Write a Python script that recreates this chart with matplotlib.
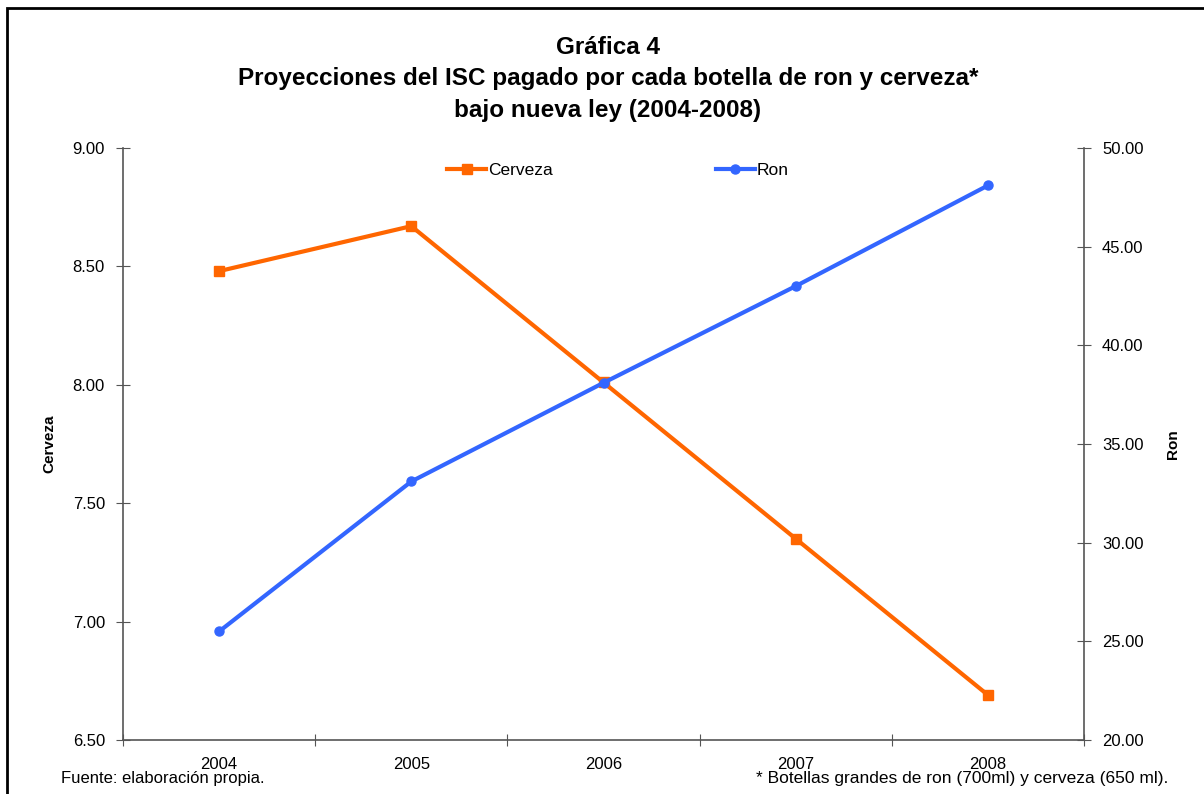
import matplotlib.pyplot as plt
from matplotlib.patches import Rectangle

plt.rcParams['font.family'] = ['Liberation Sans', 'DejaVu Sans']

years = ['2004', '2005', '2006', '2007', '2008']
cerveza = [8.48, 8.67, 8.01, 7.35, 6.69]
ron = [25.5, 33.1, 38.1, 43.0, 48.1]

ORANGE = '#FF6600'
BLUE = '#3366FF'

fig = plt.figure(figsize=(12.04, 7.94), dpi=100)
ax = fig.add_axes([123 / 1204, 1 - 740 / 794, (1084 - 123) / 1204, (740 - 148) / 794])
ax2 = ax.twinx()

x = list(range(len(years)))
l1, = ax.plot(x, cerveza, color=ORANGE, lw=3, marker='s', markersize=7, label='Cerveza')
l2, = ax2.plot(x, ron, color=BLUE, lw=3, marker='o', markersize=6.5, label='Ron')

ax.set_xlim(-0.5, len(years) - 0.5)
ax.set_ylim(6.5, 9.0)
ax2.set_ylim(20, 50)
ax.set_yticks([6.5, 7.0, 7.5, 8.0, 8.5, 9.0])
ax2.set_yticks([20, 25, 30, 35, 40, 45, 50])
ax.set_yticklabels([f'{v:.2f}' for v in ax.get_yticks()])
ax2.set_yticklabels([f'{v:.2f}' for v in ax2.get_yticks()])

# category axis: ticks between categories, labels centered
ax.set_xticks([i - 0.5 for i in range(len(years) + 1)])
ax.set_xticklabels([])
ax.set_xticks(x, minor=True)
ax.set_xticklabels(years, minor=True)
ax.tick_params(axis='x', which='minor', length=0, labelsize=12, pad=12)
ax.tick_params(axis='x', which='major', direction='inout', length=8, color='#555555')
ax.tick_params(axis='y', direction='inout', length=10, labelsize=12, pad=8, color='#555555')
ax2.tick_params(axis='y', direction='inout', length=10, labelsize=12, pad=8, color='#555555')

for a in (ax, ax2):
    a.spines['top'].set_visible(False)
    for s in a.spines.values():
        s.set_color('#555555')
        s.set_linewidth(1.2)
ax.spines['right'].set_visible(False)
ax2.spines['left'].set_visible(False)
ax2.spines['bottom'].set_visible(False)

ax.set_ylabel('Cerveza', fontsize=11, fontweight='bold', labelpad=12)
ax2.set_ylabel('Ron', fontsize=11, fontweight='bold', labelpad=16)

fig.legend([l1, l2], ['Cerveza', 'Ron'], loc='center left',
           bbox_to_anchor=(447 / 1204, 1 - 170 / 794), bbox_transform=fig.transFigure,
           ncol=2, frameon=False, fontsize=12.5, columnspacing=9.4, handlelength=2.25,
           handletextpad=0.1, borderpad=0, borderaxespad=0)

title_lines = ['Gráfica 4',
               'Proyecciones del ISC pagado por cada botella de ron y cerveza*',
               'bajo nueva ley (2004-2008)']
for ypix, line in zip([48, 79, 111], title_lines):
    fig.text(608 / 1204, 1 - ypix / 794, line, ha='center', va='center',
             fontsize=17.5, fontweight='bold')

fig.text(61 / 1204, 1 - 778 / 794, 'Fuente: elaboración propia.', ha='left', va='center', fontsize=12)
fig.text(1168 / 1204, 1 - 778 / 794, '* Botellas grandes de ron (700ml) y cerveza (650 ml).',
         ha='right', va='center', fontsize=12.5)

fig.patches.append(Rectangle((7 / 1204, -0.1), 1.2, 1 - 8 / 794 + 0.1, transform=fig.transFigure,
                             fill=False, edgecolor='black', lw=2))

fig.savefig('out.png', dpi=100)
